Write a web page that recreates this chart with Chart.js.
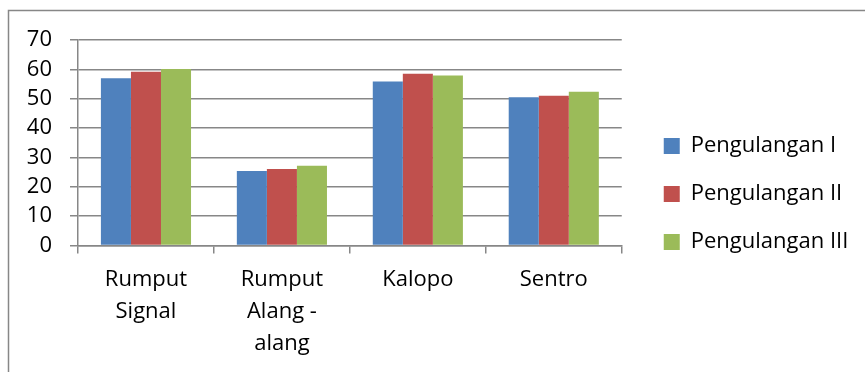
<!DOCTYPE html>
<html>
<head>
<meta charset="utf-8">
<script src="https://cdn.jsdelivr.net/npm/chart.js@4.4.1/dist/chart.umd.min.js"></script>
<style>
  html, body { margin: 0; padding: 0; background: #fff; }
</style>
</head>
<body>
<canvas id="myChart" width="865" height="372"></canvas>
<script>
  // jenis rumput (multi-line labels under the axis)
  const categories = [["Rumput", "Signal"], ["Rumput", "Alang -", "alang"], "Kalopo", "Sentro"];
  const seriesNames = ["Pengulangan I", "Pengulangan II", "Pengulangan III"];
  const ulangan1 = [57, 25.4, 55.9, 50.5];
  const ulangan2 = [59.2, 26.1, 58.5, 51];
  const ulangan3 = [60.1, 27.2, 57.9, 52.4];
  const yMin = 0;
  const yMax = 70;
  const yStep = 10;

  const seriesColors = ["#4F81BD", "#C0504D", "#9BBB59"];
  const lineGray = "#878787";
  const baseFont = { family: "'Open Sans', sans-serif", size: 22 };

  // nudge the legend a little right/down inside its box
  const legendShiftX = 16;
  const legendShiftY = -12;

  const frame = {
    id: "frame",
    beforeDraw(chart) {
      const ctx = chart.ctx;
      ctx.save();
      ctx.strokeStyle = lineGray;
      ctx.lineWidth = 1.5;
      ctx.beginPath();
      ctx.moveTo(8.5, chart.height);
      ctx.lineTo(8.5, 10.5);
      ctx.lineTo(chart.width, 10.5);
      ctx.stroke();
      ctx.restore();
    },
  };

  const legendNudge = {
    id: "legendNudge",
    afterLayout(chart) {
      const lg = chart.legend;
      if (!lg) return;
      lg.left += legendShiftX;
      // let the box run to the canvas edge so the text isn't clipped
      lg.right = chart.width;
      lg.width = lg.right - lg.left;
      lg.top += legendShiftY;
      lg.bottom += legendShiftY;
    },
  };

  const datasets = [ulangan1, ulangan2, ulangan3].map(function (vals, i) {
    return {
      label: seriesNames[i],
      data: vals,
      backgroundColor: seriesColors[i],
      borderWidth: 0,
      categoryPercentage: 0.663,
      barPercentage: 1.0,
    };
  });

  new Chart(document.getElementById("myChart"), {
    type: "bar",
    data: { labels: categories, datasets: datasets },
    plugins: [frame, legendNudge],
    options: {
      responsive: false,
      animation: false,
      devicePixelRatio: 1,
      layout: { padding: { top: 40, right: 36, bottom: 0, left: 0 } },
      plugins: {
        tooltip: { enabled: false },
        legend: {
          position: "right",
          align: "center",
          labels: {
            boxWidth: 16,
            boxHeight: 16,
            padding: 26,
            color: "#000",
            font: baseFont,
          },
        },
      },
      scales: {
        x: {
          grid: {
            offset: true,
            drawOnChartArea: false,
            drawTicks: true,
            tickLength: 8,
            color: lineGray,
            lineWidth: 1.5,
          },
          border: { color: lineGray, width: 1.5 },
          ticks: {
            color: "#000",
            font: Object.assign({ lineHeight: 1.4545 }, baseFont),
            padding: 10.5,
            maxRotation: 0,
            autoSkip: false,
          },
          afterFit(scale) {
            scale.height = 126.5;
          },
        },
        y: {
          min: yMin,
          max: yMax,
          grid: { color: lineGray, lineWidth: 1.5, tickLength: 8 },
          border: { color: lineGray, width: 1.5 },
          ticks: {
            stepSize: yStep,
            autoSkip: false,
            color: "#000",
            font: baseFont,
            padding: 18,
          },
          afterFit(scale) {
            scale.width = 78;
          },
        },
      },
    },
  });
</script>
</body>
</html>
